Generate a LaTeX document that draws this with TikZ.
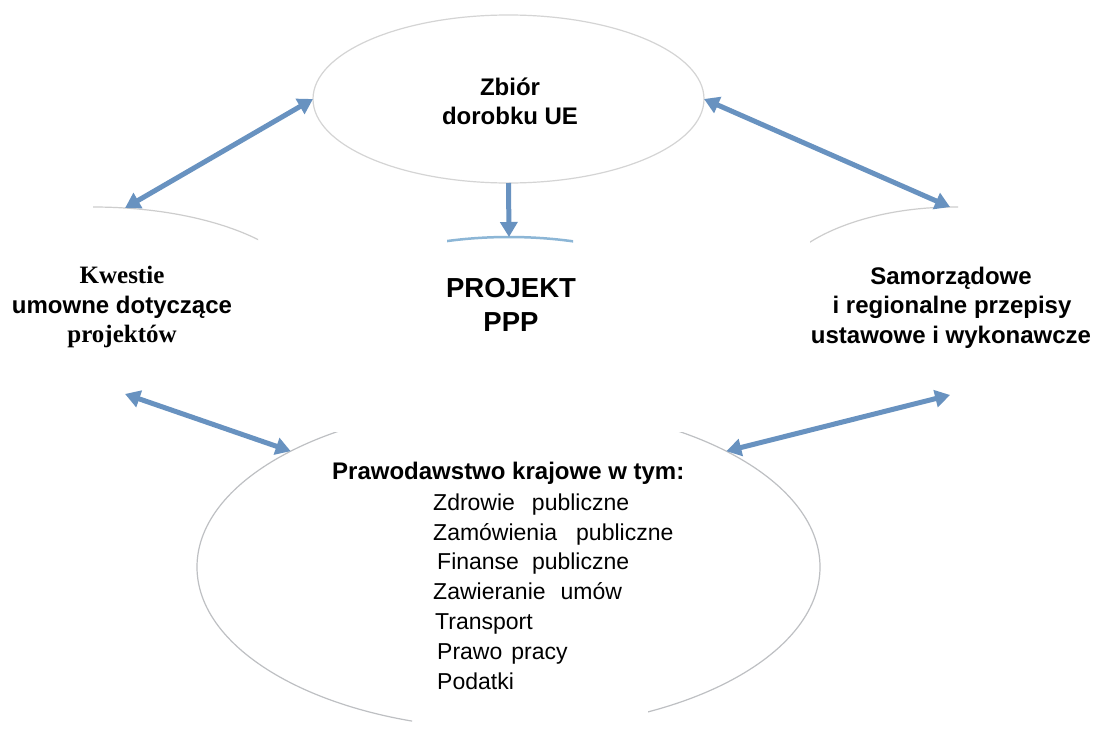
\documentclass[tikz,border=0pt]{standalone}
\usepackage{fontspec}
\setmainfont{Liberation Sans}
\newfontfamily\serifbold{Liberation Serif}[UprightFont=* Bold]
\usetikzlibrary{arrows.meta,shapes.geometric}

\definecolor{ovalgray}{RGB}{205,205,205}
\definecolor{ovaldark}{RGB}{190,192,195}
\definecolor{rimblue}{RGB}{140,182,214}
\definecolor{linkblue}{RGB}{104,146,192}

\tikzset{
  oval/.style={ellipse, inner sep=0pt, outer sep=0pt, draw=ovalgray, line width=1.2pt},
  link/.style={draw=linkblue, line width=5pt,
    {Triangle[length=15pt,width=17pt]}-{Triangle[length=15pt,width=17pt]}},
  linkdown/.style={draw=linkblue, line width=5pt, -{Triangle[length=15pt,width=17pt]}},
  hd/.style={font=\fontsize{24}{29}\selectfont\bfseries, anchor=base, inner sep=0pt},
  big/.style={font=\fontsize{27.5}{33}\selectfont\bfseries, anchor=base, inner sep=0pt},
  ser/.style={font=\fontsize{25}{30}\serifbold, anchor=base, inner sep=0pt},
  item/.style={font=\fontsize{23}{28}\selectfont, anchor=base west, inner sep=0pt}
}

\begin{document}
\begin{tikzpicture}[x=1pt,y=-1pt]
  \fill[white] (0,0) rectangle (1094,728);
  \useasboundingbox (0,0) rectangle (1094,728);

  % EU acquis oval (fully drawn)
  \node[oval, draw=ovalgray!85, minimum width=391pt, minimum height=168pt] (eu) at (508.5,99) {};

  % contract issues oval: only its upper rim shows
  \begin{scope}
    \clip (93,196) rectangle (258,245);
    \node[oval, minimum width=436pt, minimum height=188pt] (kw) at (93,301) {};
  \end{scope}

  % regional regulations oval: only its upper rim shows
  \begin{scope}
    \clip (810,196) rectangle (958,250);
    \node[oval, minimum width=372pt, minimum height=188pt] (sr) at (955,301) {};
  \end{scope}

  % PPP project oval: short blue rim at the top
  \begin{scope}
    \clip (447,230) rectangle (573,246);
    \node[oval, draw=rimblue, line width=2.5pt, minimum width=438pt, minimum height=200pt] (pr) at (509,337) {};
  \end{scope}

  % national legislation oval: side arcs only
  \begin{scope}
    \clip (0,432) rectangle (412,728) (648,432) rectangle (1094,728);
    \node[oval, draw=ovaldark, minimum width=623pt, minimum height=324pt] (pk) at (508.5,567) {};
  \end{scope}

  % connectors
  \draw[link] (kw.71) -- (eu.west);
  \draw[link] (eu.east) -- (sr.93);
  \draw[link] (kw.-71) -- (pk.152);
  \draw[link] (pk.28) -- (sr.-93);
  \draw[linkdown] (eu.south) -- (pr.north);

  % labels
  \node[hd] (eu1) at (510,95) {Zbiór};
  \node[hd] (eu2) at (510,124) {dorobku UE};

  \node[big] (pr1) at (511,297) {PROJEKT};
  \node[big] (pr2) at (511,331) {PPP};

  \node[ser] (kw1) at (122,283) {Kwestie};
  \node[hd]  (kw2) at (122,313) {umowne dotyczące};
  \node[ser] (kw3) at (122,342) {projektów};

  \node[hd] (sr1) at (951,284) {Samorządowe};
  \node[hd] (sr2) at (952,313) {i regionalne przepisy};
  \node[hd] (sr3) at (951,343) {ustawowe i wykonawcze};

  \node[hd, anchor=base west] (pk0) at (332,479) {Prawodawstwo krajowe w tym:};
  \node[item] (pk1) at (433,510)   {Zdrowie\hspace{17pt}publiczne};
  \node[item] (pk2) at (433,540)   {Zamówienia\hspace{19pt}publiczne};
  \node[item] (pk3) at (437,569.5) {Finanse\hspace{13pt}publiczne};
  \node[item] (pk4) at (433,599)   {Zawieranie\hspace{15pt}umów};
  \node[item] (pk5) at (435,629)   {Transport};
  \node[item] (pk6) at (437,659)   {Prawo\hspace{9pt}pracy};
  \node[item] (pk7) at (437,689)   {Podatki};
\end{tikzpicture}
\end{document}
